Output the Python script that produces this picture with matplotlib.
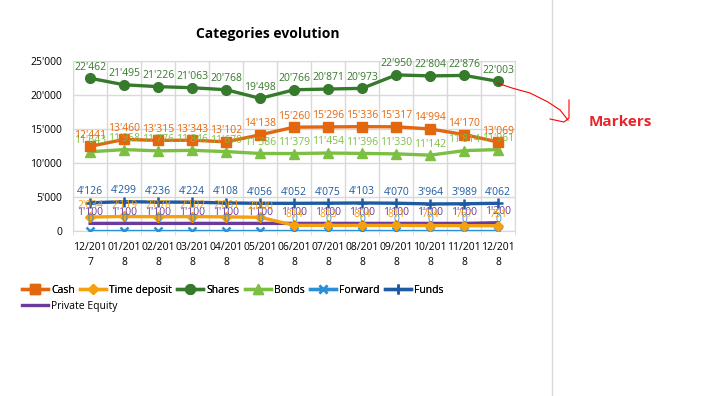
import matplotlib.pyplot as plt
from matplotlib.lines import Line2D

plt.rcParams['font.family'] = ['Open Sans', 'DejaVu Sans']

# data
months = ['12/201\n7', '01/201\n8', '02/201\n8', '03/201\n8', '04/201\n8', '05/201\n8', '06/201\n8',
          '07/201\n8', '08/201\n8', '09/201\n8', '10/201\n8', '11/201\n8', '12/201\n8']
cash = [12441, 13460, 13315, 13343, 13102, 14138, 15260, 15296, 15336, 15317, 14994, 14170, 13069]
time_deposit = [2034, 2119, 2078, 2102, 2061, 2000, 814, 813, 804, 811, 784, 767, 751]
shares = [22462, 21495, 21226, 21063, 20768, 19498, 20766, 20871, 20973, 22950, 22804, 22876, 22003]
bonds = [11643, 11958, 11776, 11846, 11670, 11386, 11379, 11454, 11396, 11330, 11142, 11814, 11961]
forward = [0] * 13
funds = [4126, 4299, 4236, 4224, 4108, 4056, 4052, 4075, 4103, 4070, 3964, 3989, 4062]
private_equity = [1100] * 12 + [1200]

series = [
    ('Cash', cash, '#E2670E', 's'),
    ('Time deposit', time_deposit, '#F5A00F', 'D'),
    ('Shares', shares, '#367A2B', 'o'),
    ('Bonds', bonds, '#7CC043', '^'),
    ('Forward', forward, '#2B8FD6', 'x'),
    ('Funds', funds, '#1D5AA2', '+'),
    ('Private Equity', private_equity, '#6A3A9C', None),
]


def fmt(v):
    return '{:,}'.format(v).replace(',', "'")


fig = plt.figure(figsize=(7.03, 3.96), dpi=100)
ax = fig.add_axes([0.104, 0.417, 0.629, 0.429])

x = list(range(len(months)))
sizes = {'s': 7, 'D': 5.5, 'o': 7, '^': 7.5, 'x': 6, '+': 7}
handles = []
# draw in reverse so cash/shares sit on top
for name, vals, col, mk in reversed(series):
    mew = 1.8 if mk in ('x', '+') else 1
    h, = ax.plot(x, vals, color=col, lw=2.4, marker=mk, markersize=sizes.get(mk, 6),
                 markeredgewidth=mew, label=name, zorder=3)
    handles.append(h)
    for xi, v in zip(x, vals):
        ax.annotate(fmt(v), (xi, v), xytext=(0, 4), textcoords='offset points',
                    ha='center', va='bottom', fontsize=7.5, color=col, zorder=4)
handles = handles[::-1]

ax.set_xlim(-0.5, 12.5)
ax.set_ylim(0, 25000)
ax.set_yticks([0, 5000, 10000, 15000, 20000, 25000])
ax.set_yticklabels([fmt(v) for v in [0, 5000, 10000, 15000, 20000, 25000]], fontsize=7.5)
ax.set_xticks(x)
ax.set_xticklabels(months, fontsize=7.5, linespacing=1.5)
ax.set_xticks([i - 0.5 for i in range(14)], minor=True)
ax.tick_params(axis='both', which='major', length=0, pad=8)
ax.tick_params(axis='x', which='minor', length=3, color='#D9D9D9')
ax.grid(True, axis='y', color='#D9D9D9', lw=1)
ax.grid(True, axis='x', which='minor', color='#D9D9D9', lw=1)
for s in ax.spines.values():
    s.set_color('#D9D9D9')
ax.set_axisbelow(True)

fig.text(268 / 703, 1 - 34 / 396, 'Categories evolution', fontsize=10, fontweight='bold',
         ha='center', va='center')

leg1 = fig.legend(handles[:6], [s[0] for s in series[:6]], loc='upper left',
                  bbox_to_anchor=(0.031, 0.28), ncol=6, frameon=False, fontsize=7.5,
                  handlelength=2.5, columnspacing=0.5, handletextpad=0.3,
                  borderaxespad=0, borderpad=0)
fig.legend(handles[6:], [series[6][0]], loc='upper left', bbox_to_anchor=(0.031, 0.24),
           frameon=False, fontsize=7.5, handlelength=2.5, handletextpad=0.3,
           borderaxespad=0, borderpad=0)
fig.add_artist(leg1)

# side annotation
fig.add_artist(Line2D([552 / 703, 552 / 703], [0, 1], color='#D9D9D9', lw=1))
px = [497, 512, 530, 548, 560, 568]
py = [83, 88, 93, 102, 110, 120]
fig.add_artist(Line2D([p / 703 for p in px], [1 - p / 396 for p in py], color='red', lw=0.8))
fig.add_artist(Line2D([569 / 703, 569 / 703, 564 / 703, 550 / 703],
                      [1 - 100 / 396, 1 - 118 / 396, 1 - 122 / 396, 1 - 119 / 396],
                      color='red', lw=0.8))
fig.text(620 / 703, 1 - 122 / 396, 'Markers', color='#E8262A', fontsize=11,
         fontweight='bold', ha='center', va='center')

fig.savefig('out.png', dpi=100)
